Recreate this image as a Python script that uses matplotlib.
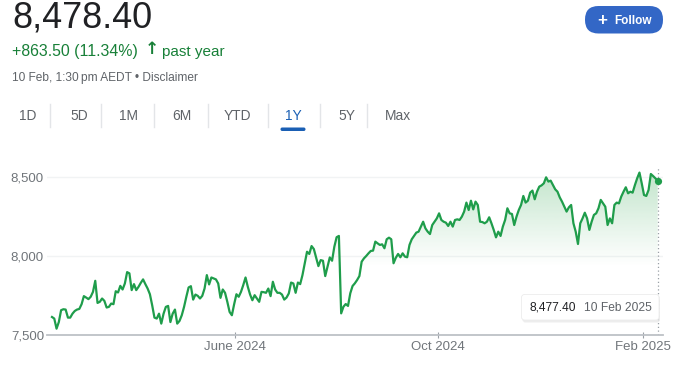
import numpy as np
import pandas as pd
import matplotlib
matplotlib.use("Agg")
import matplotlib.pyplot as plt
import matplotlib.dates as mdates
from matplotlib.patches import FancyBboxPatch
from matplotlib.lines import Line2D
from matplotlib.transforms import Affine2D

# ---------------- data ----------------
values = [
    7614, 7604, 7540, 7582, 7657, 7663, 7661, 7610, 7610, 7635,
    7652, 7661, 7665, 7695, 7746, 7737, 7727, 7742, 7773, 7843,
    7703, 7710, 7731, 7716, 7674, 7678, 7699, 7695, 7777, 7769,
    7811, 7788, 7826, 7898, 7890, 7784, 7822, 7784, 7805, 7830,
    7852, 7822, 7794, 7758, 7688, 7610, 7604, 7635, 7572, 7635,
    7678, 7684, 7582, 7635, 7661, 7572, 7589, 7625, 7678, 7742,
    7801, 7809, 7724, 7756, 7748, 7731, 7748, 7794, 7879, 7820,
    7864, 7858, 7852, 7826, 7735, 7788, 7767, 7710, 7646, 7625,
    7695, 7758, 7742, 7773, 7816, 7864, 7805, 7756, 7720, 7752,
    7731, 7710, 7773, 7771, 7767, 7794, 7746, 7837, 7788, 7767,
    7767, 7756, 7724, 7737, 7763, 7832, 7826, 7767, 7832, 7822,
    7879, 7953, 8027, 8013, 8063, 8044, 7991, 7936, 7974, 7970,
    7873, 7932, 7991, 7970, 8059, 8119, 8127,
    7637, 7679, 7696, 7684, 7764, 7810, 7827, 7848, 7873, 7964,
    7985, 8000, 8017, 8032, 8034, 8091, 8080, 8070, 8074, 8049,
    8106, 8116, 8106, 7954, 7989, 8013, 7992, 8017, 7996, 7992,
    8070, 8106, 8127, 8148, 8154, 8186, 8217, 8175, 8154, 8139,
    8196, 8217, 8238, 8270, 8228, 8217, 8211, 8190, 8217, 8186,
    8228, 8232, 8228, 8249, 8281, 8338, 8291, 8350, 8295, 8344,
    8323, 8217, 8215, 8207, 8217, 8245, 8207, 8165, 8118, 8154,
    8127, 8186, 8228, 8302, 8270, 8266, 8196, 8249, 8291, 8323,
    8380, 8338, 8350, 8401, 8414, 8359, 8407, 8439, 8447, 8460,
    8498, 8471, 8477, 8449, 8422, 8407, 8371, 8344, 8312, 8281,
    8308, 8323, 8207, 8154, 8076, 8207, 8238, 8274, 8238, 8165,
    8217, 8260, 8270, 8302, 8355, 8333, 8312, 8196, 8238, 8207,
    8323, 8338, 8333, 8376, 8407, 8435, 8397, 8407, 8401, 8449,
    8492, 8528, 8460, 8386, 8380, 8418, 8519, 8506, 8492, 8477.4,
]
start_date = "2024-02-12"
end_date = "2025-02-10"

y_ticks = [7500, 8000, 8500]
y_tick_labels = ["7,500", "8,000", "8,500"]
x_tick_dates = ["2024-06-01", "2024-10-01", "2025-02-01"]
x_tick_labels = ["June 2024", "Oct 2024", "Feb 2025"]

price_text = "8,478.40"
change_text = "+863.50 (11.34%)"
arrow_text = "\u2191"
period_text = "past year"
stamp_text = "10 Feb, 1:30\u2009pm AEDT \u2022 Disclaimer"
tabs = ["1D", "5D", "1M", "6M", "YTD", "1Y", "5Y", "Max"]
active_tab = "1Y"
tooltip_value = "8,477.40"
tooltip_date = "10 Feb 2025"

# ---------------- styling ----------------
W, H = 676, 365
FONT = ["Liberation Sans", "DejaVu Sans"]
GREEN_LINE = "#1f9d4b"
GREEN_TEXT = "#188038"
GREY = "#70757a"
DARK = "#202124"
BLUE = "#3367c6"

plt.rcParams["font.family"] = FONT

fig = plt.figure(figsize=(W / 100, H / 100), dpi=100)
fig.patch.set_facecolor("white")
# pixel transform, origin top-left
T = Affine2D().scale(1, -1).translate(0, H)

def pt(px):
    return px * 0.72

# ---------------- header ----------------
fig.text(12, 28, price_text, transform=T, fontsize=pt(36), color=DARK,
         ha="left", va="baseline")
fig.text(12, 56, change_text, transform=T,
         fontsize=pt(15.9), color=GREEN_TEXT, ha="left", va="baseline")
fig.text(151.5, 49.5, arrow_text, transform=T, fontsize=pt(17), color=GREEN_TEXT,
         ha="center", va="center", fontweight="bold", family=["DejaVu Sans"])
fig.text(161.5, 56, period_text, transform=T,
         fontsize=pt(15.3), color=GREEN_TEXT, ha="left", va="baseline")
fig.text(12, 81, stamp_text, transform=T, fontsize=pt(11.9), color="#5f6368",
         ha="left", va="baseline")

tab_x = [28, 79, 129, 182, 237, 293, 347, 398]
sep_x = [50, 101, 154, 208, 268, 320, 367]
for name, x in zip(tabs, tab_x):
    col = "#1a5fb4" if name == active_tab else "#5f6368"
    fig.text(x, 120, name, transform=T, fontsize=pt(13.8), color=col,
             ha="center", va="baseline")
for x in sep_x:
    fig.add_artist(Line2D([x, x], [104, 127], transform=T, color="#e3e5e8", lw=1))
ux = tab_x[tabs.index(active_tab)]
fig.add_artist(FancyBboxPatch((ux - 12.5, 127.5), 25, 3.5,
                              boxstyle="round,pad=0,rounding_size=1.7",
                              transform=T, facecolor="#1a5fb4", edgecolor="none"))

# Follow button
fig.add_artist(FancyBboxPatch((585, 6), 78, 27.5,
                              boxstyle="round,pad=0,rounding_size=13.5",
                              transform=T, facecolor=BLUE, edgecolor="none"))
fig.text(602, 20, "+", transform=T, fontsize=pt(17), color="white",
         ha="center", va="center", fontweight="bold")
fig.text(614, 24, "Follow", transform=T, fontsize=pt(11.8), color="white",
         ha="left", va="baseline", fontweight="bold")

# ---------------- chart ----------------
ax_l, ax_r, ax_t, ax_b = 47, 663, 168, 335
ax = fig.add_axes([ax_l / W, 1 - ax_b / H, (ax_r - ax_l) / W, (ax_b - ax_t) / H])
ax.set_facecolor("none")

dates = pd.date_range(start_date, end_date, periods=len(values))
vals = np.array(values, dtype=float)

y_lo = 7500
y_hi = 8500 + (177 - ax_t) * 500 / 79
ax.set_ylim(y_lo, y_hi)
x0 = pd.Timestamp(start_date) - pd.Timedelta(days=3.0)
x1 = pd.Timestamp(end_date) + pd.Timedelta(days=3.2)
ax.set_xlim(x0, x1)

# gradient fill under the line
poly = ax.fill_between(dates, vals, y_lo, facecolor="none", edgecolor="none")
ny = 300
yy = np.linspace(y_lo, y_hi, ny)
alpha = np.clip((yy - 7930) / (y_hi - 7930), 0, 1) ** 1.1 * 0.32
rgba = np.zeros((ny, 1, 4))
rgba[..., 0] = 0x34 / 255
rgba[..., 1] = 0xa8 / 255
rgba[..., 2] = 0x53 / 255
rgba[:, 0, 3] = alpha
im = ax.imshow(rgba, origin="lower", aspect="auto",
               extent=[mdates.date2num(x0), mdates.date2num(x1), y_lo, y_hi],
               zorder=1, interpolation="bilinear")
im.set_clip_path(poly.get_paths()[0], ax.transData)

for yv in y_ticks[1:]:
    ax.axhline(yv, color="#f1f3f4", lw=1, zorder=0)

ax.plot(dates, vals, color=GREEN_LINE, lw=1.6, zorder=3, solid_joinstyle="round")
ax.axvline(dates[-1], color="#9aa0a6", lw=0.9, ls=(0, (1, 2)), zorder=2)
ax.plot(dates[-1:], vals[-1:], "o", color=GREEN_LINE, ms=5.2, zorder=4, mec="none")

for s in ["top", "right", "left"]:
    ax.spines[s].set_visible(False)
ax.spines["bottom"].set_color("#bdc1c6")
ax.spines["bottom"].set_linewidth(1.3)

ax.set_yticks(y_ticks)
ax.set_yticklabels(y_tick_labels)
ax.tick_params(axis="y", length=0, pad=pt(3), labelsize=pt(13.2), labelcolor=GREY)
ax.set_xticks(pd.to_datetime(x_tick_dates))
ax.set_xticklabels(x_tick_labels)
ax.tick_params(axis="x", length=pt(6), width=0.8, color="#9aa0a6", direction="inout",
               pad=pt(3), labelsize=pt(13.2), labelcolor=GREY)

# tooltip
fig.add_artist(FancyBboxPatch((522.5, 296.5), 137.5, 26,
                              boxstyle="round,pad=0,rounding_size=3",
                              transform=T, facecolor="#e6e6e6", edgecolor="none",
                              alpha=0.7, zorder=5))
fig.add_artist(FancyBboxPatch((521.5, 294.5), 137.5, 25.5,
                              boxstyle="round,pad=0,rounding_size=3",
                              transform=T, facecolor="white", edgecolor="#ececec",
                              lw=0.6, zorder=6))
fig.text(530, 311, tooltip_value, transform=T, fontsize=pt(12), color=DARK,
         ha="left", va="baseline", zorder=7)
fig.text(584, 311, tooltip_date, transform=T, fontsize=pt(12), color="#5f6368",
         ha="left", va="baseline", zorder=7)

fig.savefig("out.png", dpi=100)
